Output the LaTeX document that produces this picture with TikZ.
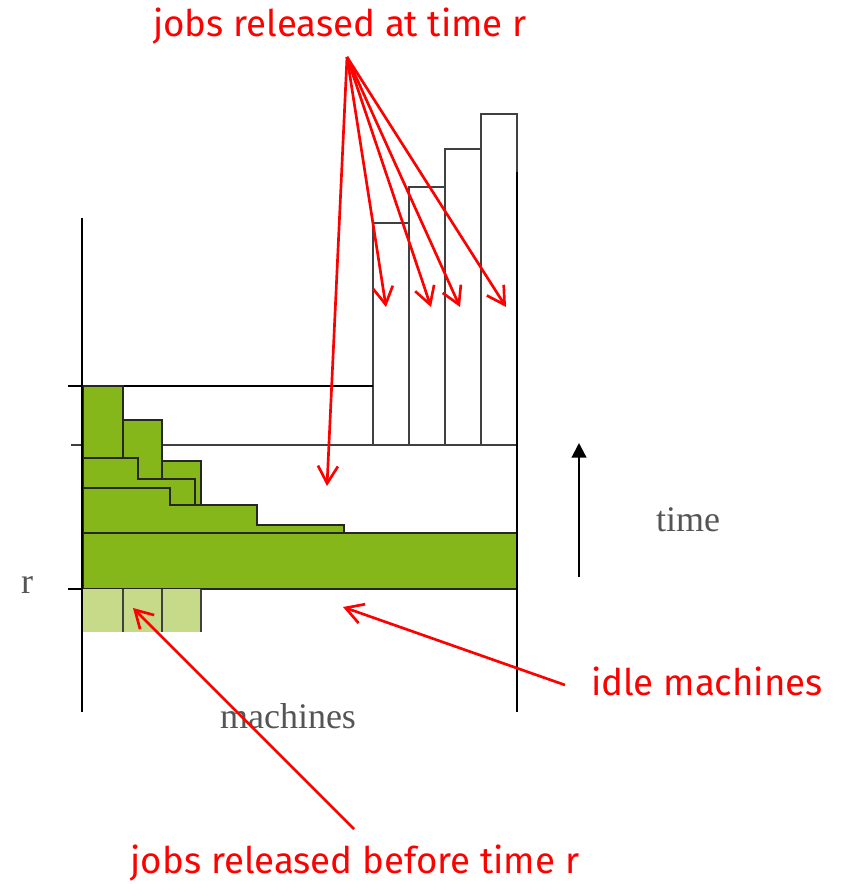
\documentclass[tikz,border=0pt]{standalone}
\usepackage{fontspec}
\newfontfamily\notefont{Fira Sans}
\newfontfamily\plotfont{Liberation Serif}
\usetikzlibrary{arrows.meta,positioning}
\definecolor{jobgreen}{RGB}{134,183,26}
\definecolor{oldgreen}{RGB}{199,218,137}
\definecolor{notered}{RGB}{255,0,0}
\definecolor{labelgrey}{RGB}{85,85,85}

\begin{document}
\begin{tikzpicture}[x=0.75pt, y=-0.75pt,
        job/.style={draw=black!85, line width=1.2pt, fill=jobgreen},
        oldjob/.style={fill=oldgreen},
        slot/.style={draw=black!75, line width=1.2pt},
        axis/.style={draw=black, line width=2.2pt},
        note/.style={text=notered, font=\notefont\fontsize{27.5}{33}\selectfont, anchor=base, inner sep=0pt},
        axislabel/.style={text=labelgrey, font=\plotfont\fontsize{27}{32}\selectfont, anchor=base, inner sep=0pt},
        pointer/.style={draw=notered, line width=2pt, -{Straight Barb[length=13pt,width=15pt]}},
        timearrow/.style={draw=black, line width=1.6pt, -{Triangle[length=11pt,width=11pt]}}]
    \useasboundingbox (0,0) rectangle (841,884);

    % jobs released at time r
    \foreach \x/\t in {373/223, 409/187, 445/149, 481/114}
        \draw[slot] (\x,\t) rectangle (\x+36,445);
    \draw[axis, line width=1.4pt] (68,386) -- (373,386);
    \draw[slot] (71,445) -- (517,445);

    % schedule before r
    \draw[job] (83,386) rectangle (123,458);
    \draw[job] (123,420) rectangle (162,479);
    \draw[job] (162,461) rectangle (201,505);
    \draw[job] (83,458) -- (138,458) -- (138,479) -- (195,479) -- (195,533) -- (83,533) -- cycle;
    \draw[job] (83,488) -- (170,488) -- (170,505) -- (257,505) -- (257,525) -- (344,525) -- (344,533) -- (83,533) -- cycle;
    \draw[job] (83,533) rectangle (517,589);

    % jobs released before r
    \fill[oldjob] (83,589) rectangle (201,632);
    \draw[slot] (123,589) -- (123,632);
    \draw[slot] (162,589) -- (162,632);
    \draw[slot] (201,589) -- (201,632);

    % axes
    \draw[axis, line width=1.4pt] (68,589) -- (83,589);
    \draw[axis] (82,218) -- (82,712);
    \draw[axis] (517,172) -- (517,712);

    \coordinate (tlow) at (579,577);
    \coordinate (thigh) at (579,443);
    \draw[timearrow] (tlow) -- (thigh);

    \node[axislabel] (time) at (688,531) {time};
    \node[axislabel] (mach) at (288,728) {machines};
    \node[axislabel] (rlab) at (27,593) {r};

    % notes
    \node[note] (relr) at (340,37) {jobs released at time r};
    \node[note] (idle) at (707,695) {idle machines};
    \node[note] (relb) at (355,873) {jobs released before time r};

    \coordinate (hub) at (347,57);
    \coordinate (gap) at (327,486);
    \coordinate (new1) at (386,307);
    \coordinate (new2) at (431,307);
    \coordinate (new3) at (460,307);
    \coordinate (new4) at (506,307);
    \draw[pointer] (hub) -- (gap);
    \draw[pointer] (hub) -- (new1);
    \draw[pointer] (hub) -- (new2);
    \draw[pointer] (hub) -- (new3);
    \draw[pointer] (hub) -- (new4);

    \coordinate (idlefoot) at (565,685);
    \coordinate (idletip) at (343,607);
    \draw[pointer] (idlefoot) -- (idletip);

    \coordinate (oldfoot) at (354,829);
    \coordinate (oldtip) at (133,608);
    \draw[pointer] (oldfoot) -- (oldtip);
\end{tikzpicture}
\end{document}
